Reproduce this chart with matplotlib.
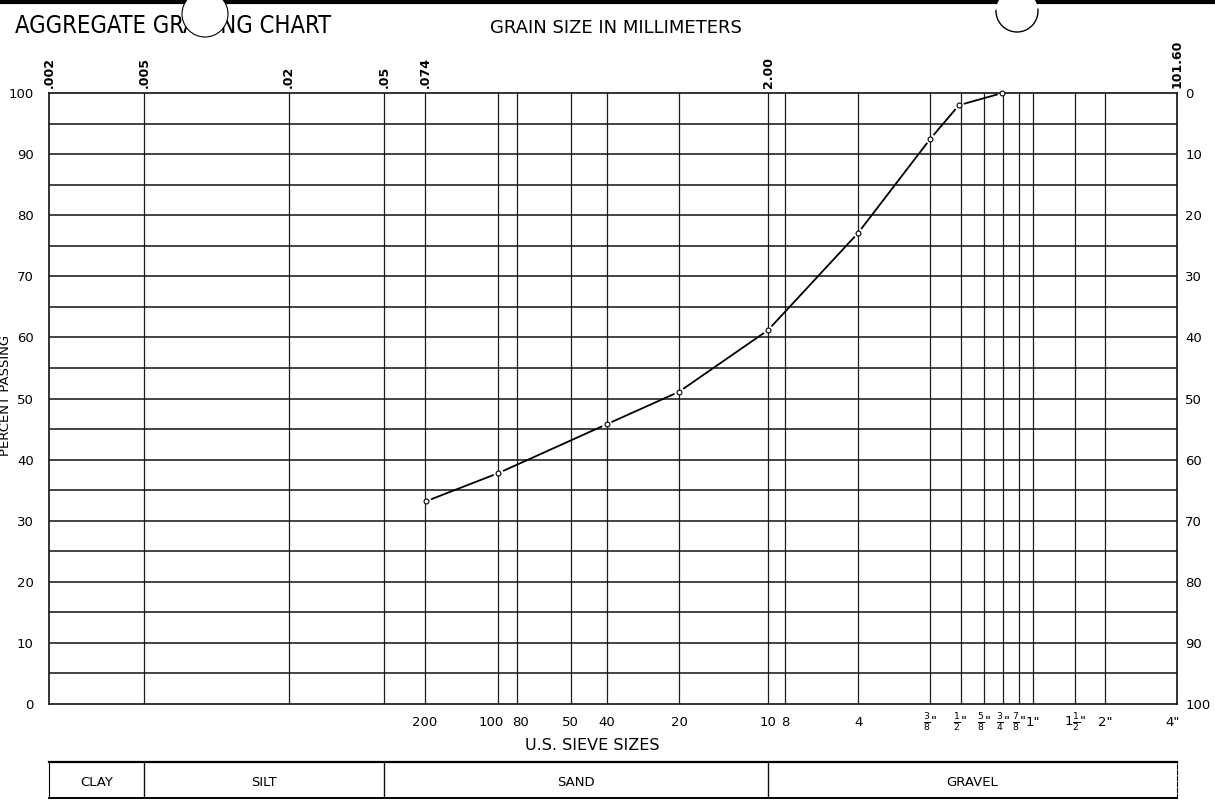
import numpy as np
import matplotlib
matplotlib.use("Agg")
import matplotlib.pyplot as plt
from matplotlib.patches import Ellipse, Arc
from matplotlib.ticker import NullLocator

# grading result (sieve opening in mm, percent passing)
sieve_mm = [0.075, 0.15, 0.425, 0.85, 2.0, 4.75, 9.5, 12.5, 19.0]
passing = [33.2, 37.8, 45.8, 51.1, 61.2, 77.1, 92.5, 98.0, 100.0]

# grain size scale along the top
mm_ticks = [0.002, 0.005, 0.02, 0.05, 0.074, 2.0, 101.6]
mm_labels = [".002", ".005", ".02", ".05", ".074", "2.00", "101.60"]

# US sieve sizes along the bottom
sieve_pos = [0.074, 0.15, 0.18, 0.30, 0.425, 0.85, 2.0, 2.36, 4.75,
             9.5, 12.7, 15.9, 19.05, 22.2, 25.4, 38.1, 50.8, 101.6]
sieve_labels = ["200", "100", "80", "50", "40", "20", "10", "8", "4",
                r'$\frac{3}{8}$"', r'$\frac{1}{2}$"', r'$\frac{5}{8}$"',
                r'$\frac{3}{4}$"', r'$\frac{7}{8}$"', '1"',
                r'$1\frac{1}{2}$"', '2"', '4"']
# small sideways nudges (pixels) so crowded labels don't collide
nudge = {"100": -7, "80": 3, "4\"": -4}

# soil classes (boundaries in mm)
soil_edges = [0.002, 0.005, 0.05, 2.0, 101.6]
soil_names = ["CLAY", "SILT", "SAND", "GRAVEL"]

W, H = 1215, 800
fig = plt.figure(figsize=(W / 100, H / 100), dpi=100)
fig.patch.set_facecolor("white")

L, R = 49 / W, 1177 / W
B, T = 1 - 704 / H, 1 - 93 / H
ax = fig.add_axes([L, B, R - L, T - B])
ax.set_xscale("log")
ax.set_xlim(0.002, 101.6)
ax.set_ylim(0, 100)
ax.xaxis.set_major_locator(NullLocator())
ax.xaxis.set_minor_locator(NullLocator())
for s in ax.spines.values():
    s.set_color("#111111")
    s.set_linewidth(1.2)

# grid
vlines = [0.005, 0.02, 0.05] + sieve_pos[:-1]
for v in vlines:
    ax.axvline(v, color="#1c1c1c", lw=0.9, zorder=1)
for h in range(5, 100, 5):
    ax.axhline(h, color="#111111", lw=1.1, zorder=1)

ax.set_yticks(range(0, 101, 10))
ax.tick_params(axis="y", length=0, pad=11, labelsize=9.5)

rt = ax.twinx()
rt.set_ylim(100, 0)
rt.set_yticks(range(0, 101, 10))
rt.tick_params(axis="y", length=0, pad=6, labelsize=9.5)
for s in rt.spines.values():
    s.set_visible(False)

# hand drawn curve: segments stop short of each point
disp = ax.transData.transform(np.column_stack([sieve_mm, passing]))
inv = ax.transData.inverted()
gap = 5
for i in range(len(disp) - 1):
    p0, p1 = disp[i], disp[i + 1]
    u = (p1 - p0) / np.hypot(*(p1 - p0))
    seg = inv.transform([p0 + u * gap, p1 - u * gap])
    ax.plot(seg[:, 0], seg[:, 1], color="black", lw=1.3, zorder=3,
            solid_capstyle="butt")
ax.plot(sieve_mm, passing, "o", ms=3.5, mfc="white", mec="black",
        mew=0.8, zorder=5, clip_on=False)

# top mm labels
for x, lbl in zip(mm_ticks, mm_labels):
    ax.text(x, 1.008, lbl, rotation=90, ha="center", va="bottom",
            fontsize=9, fontweight="bold", transform=ax.get_xaxis_transform())

# bottom sieve labels
for x, lbl in zip(sieve_pos, sieve_labels):
    fs = 9.5 if "frac" in lbl else 9.5
    ax.annotate(lbl, (x, -0.031), xycoords=ax.get_xaxis_transform(),
                xytext=(nudge.get(lbl, 0) * 0.72, 0), textcoords="offset points",
                ha="center", va="center", fontsize=fs)

fig.text(592 / W, 1 - 746 / H, "U.S. SIEVE SIZES", ha="center", va="center",
         fontsize=11.5)
fig.text(616 / W, 1 - 28 / H, "GRAIN SIZE IN MILLIMETERS", ha="center",
         va="center", fontsize=13)
fig.text(15 / W, 1 - 26 / H, "AGGREGATE GRADING CHART", ha="left",
         va="center", fontsize=17, family="DejaVu Sans", stretch="condensed")
fig.text(6 / W, 1 - 395 / H, "PERCENT PASSING", rotation=90, ha="center",
         va="center", fontsize=9.5)

# soil classification strip
tab = fig.add_axes([L, 2 / H, R - L, 36 / H])
tab.set_xscale("log")
tab.set_xlim(0.002, 101.6)
tab.set_ylim(0, 1)
tab.xaxis.set_major_locator(NullLocator())
tab.xaxis.set_minor_locator(NullLocator())
tab.set_yticks([])
tab.spines["top"].set_linewidth(1.6)
tab.spines["bottom"].set_linewidth(1.4)
tab.spines["right"].set_linewidth(0.8)
tab.spines["right"].set_linestyle("--")
for e in soil_edges[1:-1]:
    tab.axvline(e, color="#111111", lw=1.0)
for a, b, name in zip(soil_edges[:-1], soil_edges[1:], soil_names):
    tab.text(np.sqrt(a * b), 0.42, name, ha="center", va="center", fontsize=9.5)

# paper edge and punched holes
fig.add_artist(plt.Line2D([0, 1], [1 - 2 / H, 1 - 2 / H], color="black", lw=3))
fig.add_artist(Ellipse((205 / W, 1 - 14 / H), 46 / W, 46 / H,
                       facecolor="white", edgecolor="black", lw=0.8, zorder=10))
fig.add_artist(Ellipse((1017 / W, 1 - 11 / H), 42 / W, 42 / H,
                       facecolor="white", edgecolor="none", zorder=10))
fig.add_artist(Arc((1017 / W, 1 - 11 / H), 42 / W, 42 / H, theta1=175,
                   theta2=370, color="black", lw=1.0, zorder=11))

fig.savefig("out.png", dpi=100, facecolor="white")
